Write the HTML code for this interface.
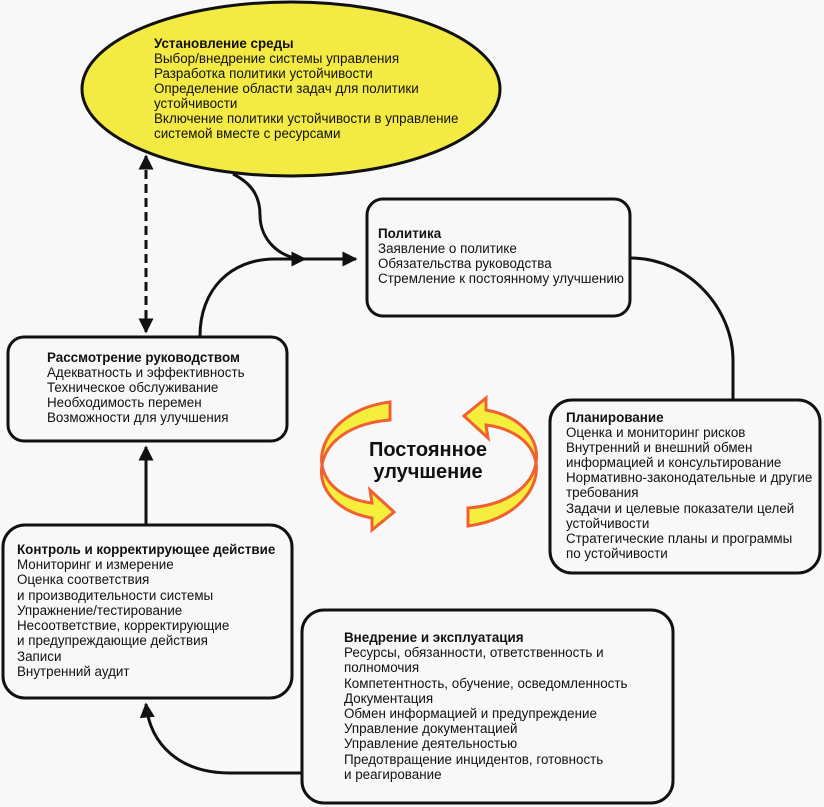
<!DOCTYPE html>
<html><head><meta charset="utf-8"><style>
html,body{margin:0;padding:0;background:#f8f8f8;}
svg{display:block;}
text{font-family:"Liberation Sans",Arial,sans-serif;font-size:13.4px;fill:#111;}
.b{font-weight:bold;}
</style></head><body>
<svg width="824" height="807" viewBox="0 0 824 807" xmlns="http://www.w3.org/2000/svg">
<defs>
<marker id="ah" viewBox="0 0 10 10" refX="9" refY="5" markerWidth="6" markerHeight="5" orient="auto-start-reverse" markerUnits="strokeWidth">
<path d="M0,0 L10,5 L0,10 z" fill="#111"/></marker>
</defs>
<rect width="824" height="807" fill="#f8f8f8"/>
<ellipse cx="291" cy="89" rx="209" ry="87" fill="#f3ea44" stroke="#111" stroke-width="3"/>
<line x1="146" y1="156" x2="146" y2="332" stroke="#111" stroke-width="3" stroke-dasharray="9,5" marker-start="url(#ah)" marker-end="url(#ah)"/>
<path d="M233,174 C255,185 260,200 260,215 C260,240 280,259 305,259" fill="none" stroke="#111" stroke-width="3" marker-end="url(#ah)"/>
<path d="M200,336 C200,290 230,259 275,259 L356,259" fill="none" stroke="#111" stroke-width="3" marker-end="url(#ah)"/>
<path d="M630,258 C690,258 733,310 733,360 L733,400" fill="none" stroke="#111" stroke-width="3"/>
<line x1="146" y1="525" x2="146" y2="447" stroke="#111" stroke-width="3" marker-end="url(#ah)"/>
<path d="M302,773 L230,773 C180,773 150,745 146,704" fill="none" stroke="#111" stroke-width="3" marker-end="url(#ah)"/>
<rect x="367" y="199" width="263" height="117" rx="16" fill="#f8f8f8" stroke="#111" stroke-width="3"/>
<rect x="8" y="337" width="279" height="104" rx="16" fill="#f8f8f8" stroke="#111" stroke-width="3"/>
<rect x="550" y="400" width="270" height="173" rx="22" fill="#f8f8f8" stroke="#111" stroke-width="3"/>
<rect x="3" y="525" width="289" height="173" rx="22" fill="#f8f8f8" stroke="#111" stroke-width="3"/>
<rect x="302" y="610" width="371" height="193" rx="22" fill="#f8f8f8" stroke="#111" stroke-width="3"/>
<g fill="#f5ee3c" stroke="#f06030" stroke-width="3" stroke-linejoin="miter">
<path d="M390,402 C342,408 318,440 322,465 C326,488 348,500 372,503 L370,490 L394,512 L372,530 L372,518 C338,512 318,490 322,465 C326,442 350,423 390,420 Z"/>
<path d="M390,402 C342,408 318,440 322,465 C326,488 348,500 372,503 L370,490 L394,512 L372,530 L372,518 C338,512 318,490 322,465 C326,442 350,423 390,420 Z" transform="rotate(180 429 464)"/>
</g>
<text x="428" y="456" text-anchor="middle" class="b" style="font-size:20px">Постоянное</text>
<text x="428" y="478" text-anchor="middle" class="b" style="font-size:20px">улучшение</text>
<g>
<text x="154" y="48" class="b">Установление среды</text>
<text x="154" y="63">Выбор/внедрение системы управления</text>
<text x="154" y="78">Разработка политики устойчивости</text>
<text x="154" y="93">Определение области задач для политики</text>
<text x="154" y="108">устойчивости</text>
<text x="154" y="123">Включение политики устойчивости в управление</text>
<text x="154" y="138">системой вместе с ресурсами</text>
</g>
<g>
<text x="378" y="238" class="b">Политика</text>
<text x="378" y="253">Заявление о политике</text>
<text x="378" y="268">Обязательства руководства</text>
<text x="378" y="283">Стремление к постоянному улучшению</text>
</g>
<g>
<text x="47" y="362" class="b">Рассмотрение руководством</text>
<text x="47" y="377">Адекватность и эффективность</text>
<text x="47" y="392">Техническое обслуживание</text>
<text x="47" y="407">Необходимость перемен</text>
<text x="47" y="422">Возможности для улучшения</text>
</g>
<g>
<text x="566" y="422" class="b">Планирование</text>
<text x="566" y="437">Оценка и мониторинг рисков</text>
<text x="566" y="452">Внутренний и внешний обмен</text>
<text x="566" y="467">информацией и консультирование</text>
<text x="566" y="482">Нормативно-законодательные и другие</text>
<text x="566" y="497">требования</text>
<text x="566" y="513">Задачи и целевые показатели целей</text>
<text x="566" y="528">устойчивости</text>
<text x="566" y="543">Стратегические планы и программы</text>
<text x="566" y="558">по устойчивости</text>
</g>
<g>
<text x="17" y="554" class="b">Контроль и корректирующее действие</text>
<text x="17" y="569">Мониторинг и измерение</text>
<text x="17" y="584">Оценка соответствия</text>
<text x="17" y="600">и производительности системы</text>
<text x="17" y="615">Упражнение/тестирование</text>
<text x="17" y="630">Несоответствие, корректирующие</text>
<text x="17" y="645">и предупреждающие действия</text>
<text x="17" y="661">Записи</text>
<text x="17" y="676">Внутренний аудит</text>
</g>
<g>
<text x="344" y="642" class="b">Внедрение и эксплуатация</text>
<text x="344" y="657">Ресурсы, обязанности, ответственность и</text>
<text x="344" y="672">полномочия</text>
<text x="344" y="688">Компетентность, обучение, осведомленность</text>
<text x="344" y="703">Документация</text>
<text x="344" y="718">Обмен информацией и предупреждение</text>
<text x="344" y="733">Управление документацией</text>
<text x="344" y="748">Управление деятельностью</text>
<text x="344" y="764">Предотвращение инцидентов, готовность</text>
<text x="344" y="779">и реагирование</text>
</g>
</svg>
</body></html>
